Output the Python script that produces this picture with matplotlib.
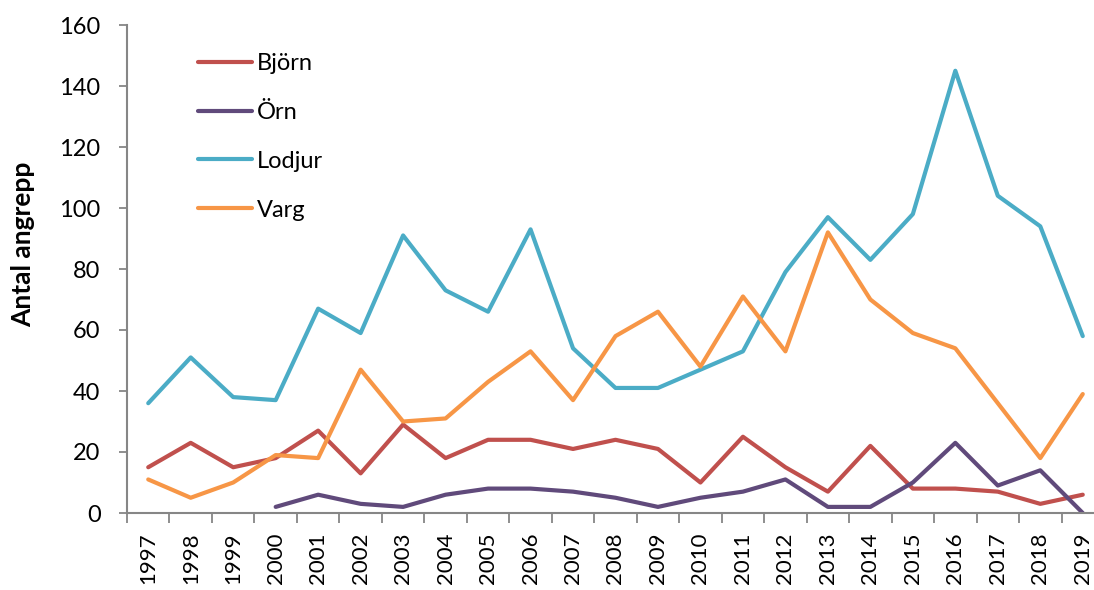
import matplotlib.pyplot as plt
import numpy as np

years = [str(y) for y in range(1997, 2020)]
bjorn = [15, 23, 15, 18, 27, 13, 29, 18, 24, 24, 21, 24, 21, 10, 25, 15, 7, 22, 8, 8, 7, 3, 6]
orn = [np.nan, np.nan, np.nan, 2, 6, 3, 2, 6, 8, 8, 7, 5, 2, 5, 7, 11, 2, 2, 10, 23, 9, 14, 0]
lodjur = [36, 51, 38, 37, 67, 59, 91, 73, 66, 93, 54, 41, 41, 47, 53, 79, 97, 83, 98, 145, 104, 94, 58]
varg = [11, 5, 10, 19, 18, 47, 30, 31, 43, 53, 37, 58, 66, 48, 71, 53, 92, 70, 59, 54, 36, 18, 39]

series = [("Björn", bjorn, "#C0504D"),
          ("Örn", orn, "#604A7B"),
          ("Lodjur", lodjur, "#4BACC6"),
          ("Varg", varg, "#F79646")]

plt.rcParams['font.family'] = ['Lato', 'DejaVu Sans']

fig = plt.figure(figsize=(10.94, 5.90), dpi=100)
ax = fig.add_axes([127 / 1094, 77 / 590, 977 / 1094, 488 / 590])

x = np.arange(len(years))
for name, vals, col in series:
    ax.plot(x, vals, color=col, lw=3, label=name,
            solid_joinstyle='round', solid_capstyle='round')

ax.set_xlim(-0.5, len(years) - 0.5)
ax.set_ylim(0, 160)
ax.set_yticks(range(0, 161, 20))
ax.tick_params(axis='y', labelsize=17, length=6, width=1.3, color='#868686', direction='out', pad=13)

# category boundaries as major ticks, labels on minor ticks
ax.set_xticks(np.arange(-0.5, len(years), 1.0))
ax.set_xticklabels([])
ax.set_xticks(x, minor=True)
ax.set_xticklabels(years, minor=True, rotation=90, fontsize=16)
ax.tick_params(axis='x', which='major', length=7, width=1.3, color='#868686', direction='out')
ax.tick_params(axis='x', which='minor', length=0, pad=14)

for s in ['top', 'right']:
    ax.spines[s].set_visible(False)
for s in ['left', 'bottom']:
    ax.spines[s].set_color('#868686')
    ax.spines[s].set_linewidth(1.5)

ax.set_ylabel("Antal angrepp", fontsize=19, fontweight='bold')
ax.yaxis.set_label_coords(-0.094, 0.55)

ax.legend(loc='upper left', bbox_to_anchor=(198 / 1094, 1 - 53 / 590), bbox_transform=fig.transFigure,
          frameon=False, fontsize=17, handlelength=2.3, handletextpad=0.2,
          labelspacing=1.18, borderaxespad=0, borderpad=0)

plt.savefig("out.png", dpi=100)
